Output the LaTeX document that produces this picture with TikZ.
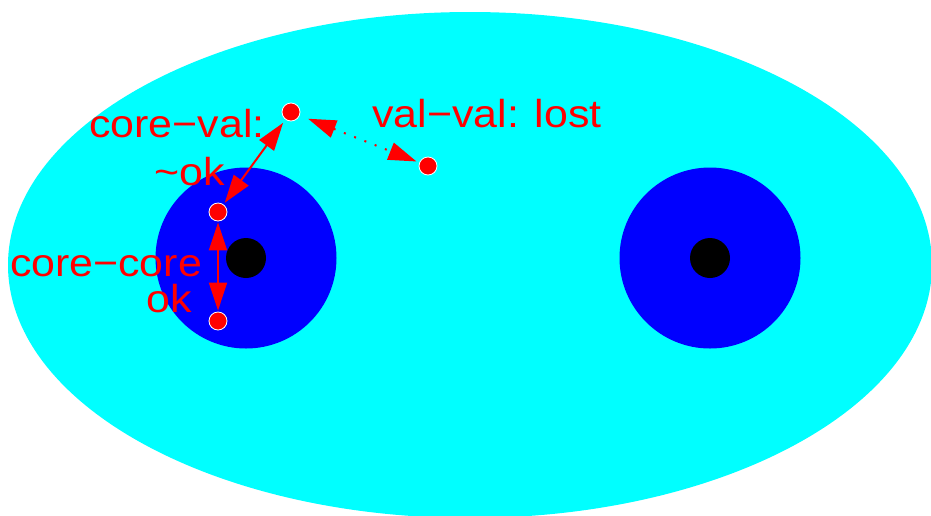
\documentclass[tikz,border=0pt]{standalone}
\usepackage{fontspec}
\setmainfont{Liberation Sans}
\usetikzlibrary{arrows.meta}
\definecolor{fcyan}{RGB}{0,255,255}
\definecolor{fblue}{RGB}{0,0,255}
\definecolor{fred}{RGB}{255,0,0}
\begin{document}
\begin{tikzpicture}[x=1pt,y=-1pt,
  dot/.style={circle,fill=fred,draw=white,line width=0.8pt,minimum size=18pt,inner sep=0pt},
  lbl/.style={text=fred,anchor=base,inner sep=0pt,xscale=1.1,font=\fontsize{39}{44}\selectfont},
  arr/.style={fred,line width=2pt,{Triangle[length=28pt,width=18pt]}-{Triangle[length=28pt,width=18pt]}},
  darr/.style={fred,line width=2pt,dash pattern=on 2pt off 9pt,{Triangle[length=28pt,width=18pt]}-{Triangle[length=28pt,width=18pt]}}]
\useasboundingbox (0,0) rectangle (931,515);
\begin{scope}
\clip (0,0) rectangle (931,515);
\fill[fcyan] (470,265) ellipse [x radius=462pt, y radius=253pt];
\end{scope}
\fill[fblue] (246,258) circle [radius=90.5pt];
\fill[fblue] (710,258) circle [radius=90.5pt];
\fill[black] (246,258) circle [radius=20pt];
\fill[black] (710,258) circle [radius=20pt];
\node[dot] (v1) at (291,112) {};
\node[dot] (v2) at (428,166) {};
\node[dot] (c1) at (218,212) {};
\node[dot] (c2) at (218,321) {};
\draw[arr,shorten <=4pt,shorten >=2pt] (v1) -- (c1);
\draw[arr,shorten <=1pt,shorten >=1pt] (c1) -- (c2);
\draw[darr,shorten <=9pt,shorten >=3pt] (v1) -- (v2);
\node[lbl] (t1) at (177,137) {core−val:};
\node[lbl] (t2) at (190,185) {\char`\~ok};
\node[lbl] (t3) at (106,276) {core−core};
\node[lbl] (t4) at (169,312) {ok};
\node[lbl] (t5) at (487,127) {val−val: lost};
\end{tikzpicture}
\end{document}
